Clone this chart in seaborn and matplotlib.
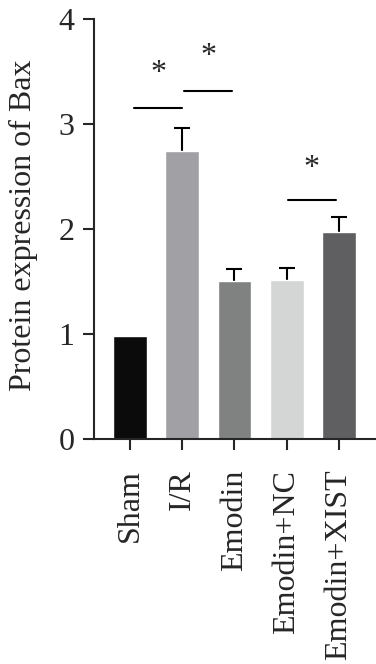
import matplotlib
matplotlib.use('Agg')
import matplotlib.pyplot as plt
import pandas as pd
import seaborn as sns

# dados
grupos = ['Sham', 'I/R', 'Emodin', 'Emodin+NC', 'Emodin+XIST']
bax = [0.98, 2.74, 1.50, 1.51, 1.97]
erro = [0.0, 0.22, 0.12, 0.12, 0.14]
cores = ['#0b0b0c', '#a1a1a5', '#808181', '#d4d5d5', '#5f5f62']

# comparacoes com asterisco: (inicio, fim, altura da linha, altura do *)
comparacoes = [(0.08, 1.0, 3.15, 3.48), (1.04, 1.96, 3.31, 3.64), (3.02, 3.94, 2.28, 2.58)]

sns.set_style('ticks')
plt.rcParams['font.family'] = ['Liberation Serif', 'DejaVu Serif']

df = pd.DataFrame({'Grupo': grupos, 'Bax': bax})

fig = plt.figure(figsize=(3.76, 6.64), dpi=100)
ax = fig.add_axes([0.25, 0.3389, 0.75, 0.6325])

sns.barplot(data=df, x='Grupo', y='Bax', hue='Grupo', palette=cores, legend=False,
            width=0.65, errorbar=None, ax=ax, zorder=2)

# so a parte de cima da barra de erro (a de baixo fica escondida atras da barra)
com_erro = df[[e > 0 for e in erro]].index
ax.errorbar(com_erro, [bax[i] for i in com_erro],
            yerr=[[0.1] * len(com_erro), [erro[i] for i in com_erro]], fmt='none',
            ecolor='black', elinewidth=1.5, capsize=5.8, capthick=1.5, zorder=1)

for x0, x1, yl, ys in comparacoes:
    ax.plot([x0, x1], [yl, yl], color='black', lw=1.5)
    ax.text((x0 + x1) / 2, ys, '*', ha='center', va='center', fontsize=23)

ax.set_ylim(0, 4)
ax.set_xlim(-0.69, 4.71)
ax.set_yticks([0, 1, 2, 3, 4])
ax.set_xlabel('')
ax.set_ylabel('Protein expression of Bax', fontsize=23)
ax.yaxis.set_label_coords(-0.2, 0.51)
ax.tick_params(axis='y', labelsize=23, width=1.5, length=8, pad=6)
ax.tick_params(axis='x', labelsize=23, width=1.5, length=8, pad=14, rotation=90)
sns.despine(ax=ax)
for s in ['left', 'bottom']:
    ax.spines[s].set_linewidth(1.5)

plt.savefig('out.png', dpi=100)
